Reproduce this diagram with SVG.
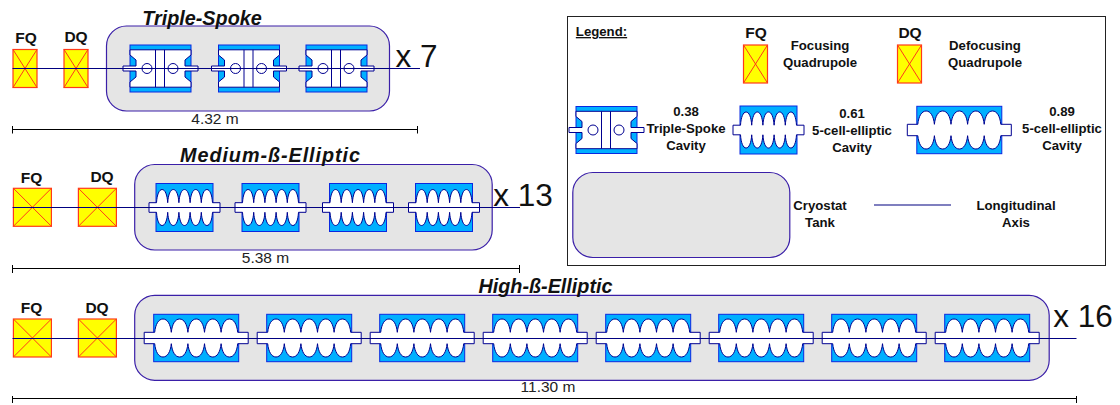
<svg xmlns="http://www.w3.org/2000/svg" width="1120" height="405" viewBox="0 0 1120 405">
<style>
text{font-family:"Liberation Sans",Arial,sans-serif;fill:#111;text-anchor:middle}
.q{font-weight:bold;font-size:15.5px}
.l{font-weight:bold;font-size:13.2px}
.t{font-weight:bold;font-style:italic;font-size:19.8px}
.n{font-size:31.500px}
.d{font-size:15.500px;fill:#222}
.tank{fill:#e5e5e5;stroke:#3a1fa8;stroke-width:1.2}
.blue{fill:#00b0ff;stroke:#0a28e0;stroke-width:1}
.white{fill:#fff;stroke:#000090;stroke-width:1}
.quad{fill:#ffff00;stroke:#ff3a1a;stroke-width:1.2}
.x{stroke:#ff3a1a;stroke-width:1;fill:none}
.axis{stroke:#000080;stroke-width:1.2;fill:none}
.dim{stroke:#000;stroke-width:1;fill:none}
</style>
<defs>
<g id="spoke">
<rect class="blue" x="-30.5" y="-23.5" width="61" height="47"/>
<path class="white" d="M-30.5-18.7H30.5V-13.5L24.5-8.5V-2.5H37.5V2.5H24.5V8.5L30.5 13.5V18.7H-30.5V13.5L-24.5 8.5V2.5H-37.5V-2.5H-24.5V-8.5L-30.5-13.5Z"/>
<path class="white" d="M-5-18.7V18.7M4-18.7V18.7"/>
<circle class="white" cx="-13.5" cy="0" r="5"/>
<circle class="white" cx="12.5" cy="0" r="5"/>
</g>
<g id="med">
<rect class="blue" x="-28.5" y="-24" width="57" height="48"/>
<path class="white" d="M-35.5-4.800H-28c.5-8 2.600-13.200 5.600-13.200s5.100 5.200 5.600 13.200c.5-8 2.600-13.200 5.600-13.200s5.100 5.200 5.600 13.200c.5-8 2.600-13.200 5.600-13.200s5.100 5.200 5.600 13.200c.5-8 2.600-13.200 5.600-13.200s5.100 5.200 5.600 13.200c.5-8 2.600-13.200 5.600-13.200s5.100 5.200 5.600 13.200H35.500V4.800H28c-.5 8-2.600 13.200-5.600 13.200s-5.100-5.200-5.600-13.200c-.5 8-2.600 13.200-5.600 13.200s-5.100-5.200-5.600-13.200c-.5 8-2.600 13.200-5.600 13.200s-5.100-5.200-5.600-13.200c-.5 8-2.600 13.200-5.600 13.200s-5.100-5.200-5.600-13.200c-.5 8-2.600 13.200-5.600 13.200s-5.100-5.200-5.600-13.200H-35.500Z"/>
</g>
<g id="high">
<rect class="blue" x="-42.5" y="-23.7" width="85" height="47.4"/>
<path class="white" d="M-52-5.700H-41.500c.8-8 3.800-13.300 8.300-13.300s7.500 5.300 8.300 13.300c.8-8 3.800-13.300 8.300-13.300s7.500 5.300 8.300 13.300c.8-8 3.800-13.300 8.300-13.300s7.500 5.300 8.300 13.300c.8-8 3.800-13.300 8.300-13.300s7.500 5.300 8.300 13.300c.8-8 3.800-13.300 8.300-13.300s7.500 5.300 8.300 13.300H52V5.700H41.500c-.8 8-3.800 13.300-8.300 13.300s-7.500-5.300-8.300-13.300c-.8 8-3.800 13.300-8.300 13.300s-7.500-5.300-8.300-13.300c-.8 8-3.800 13.300-8.300 13.300s-7.500-5.300-8.300-13.300c-.8 8-3.800 13.300-8.300 13.300s-7.500-5.300-8.300-13.300c-.8 8-3.800 13.300-8.300 13.300s-7.500-5.300-8.300-13.300H-52Z"/>
</g>
<g id="qn">
<rect class="quad" x="-12" y="-19" width="24" height="38"/>
<path class="x" d="M-12-19L12 19M12-19L-12 19"/>
</g>
<g id="qw">
<rect class="quad" x="-19" y="-19" width="38" height="38"/>
<path class="x" d="M-19-19L19 19M19-19L-19 19"/>
</g>
</defs>

<g id="legend-frame"><rect x="567.5" y="16.5" width="538" height="249" fill="#fff" stroke="#222" stroke-width="1"/></g>

<g id="tank-spoke"><rect class="tank" x="106.5" y="26" width="283" height="85" rx="20"/></g>
<g id="tank-medium"><rect class="tank" x="134.7" y="164.5" width="357.5" height="85.5" rx="20"/></g>
<g id="tank-high"><rect class="tank" x="134.7" y="295.3" width="914.5" height="85" rx="20"/></g>
<g id="tank-legend"><rect class="tank" x="572.8" y="172.5" width="217" height="85" rx="20"/></g>

<g id="title-spoke"><text class="t" x="202" y="25">Triple-Spoke</text></g>
<g id="title-medium"><text class="t" x="270" y="162" textLength="180" lengthAdjust="spacing">Medium-ß-Elliptic</text></g>
<g id="title-high"><text class="t" x="545.500" y="293">High-ß-Elliptic</text></g>

<g id="fq1"><use href="#qn" x="25" y="68.500"/><text class="q" x="26" y="43">FQ</text></g>
<g id="dq1"><use href="#qn" x="76" y="68.500"/><text class="q" x="76" y="41.500">DQ</text></g>
<g id="fq2"><use href="#qw" x="32.400" y="207.300"/><text class="q" x="31.500" y="183">FQ</text></g>
<g id="dq2"><use href="#qw" x="97.400" y="207.300"/><text class="q" x="102" y="182">DQ</text></g>
<g id="fq3"><use href="#qw" x="32.400" y="338"/><text class="q" x="31.500" y="313">FQ</text></g>
<g id="dq3"><use href="#qw" x="97.400" y="338"/><text class="q" x="97" y="313">DQ</text></g>

<g id="spoke1"><use href="#spoke" x="160.500" y="68.500"/></g>
<g id="spoke2"><use href="#spoke" x="249" y="68.500"/></g>
<g id="spoke3"><use href="#spoke" x="336.500" y="68.500"/></g>

<g id="med1"><use href="#med" x="184.500" y="207.500"/></g>
<g id="med2"><use href="#med" x="270.500" y="207.500"/></g>
<g id="med3"><use href="#med" x="358" y="207.500"/></g>
<g id="med4"><use href="#med" x="444" y="207.500"/></g>

<g id="high1"><use href="#high" x="196.200" y="338"/></g>
<g id="high2"><use href="#high" x="309.200" y="338"/></g>
<g id="high3"><use href="#high" x="422.200" y="338"/></g>
<g id="high4"><use href="#high" x="535.200" y="338"/></g>
<g id="high5"><use href="#high" x="648.200" y="338"/></g>
<g id="high6"><use href="#high" x="761.200" y="338"/></g>
<g id="high7"><use href="#high" x="874.200" y="338"/></g>
<g id="high8"><use href="#high" x="987.200" y="338"/></g>

<g id="connectors">
<path class="axis" d="M12.500 68.500H420M12.500 207.500H520M12.500 338.500H1076.500M874 205H951"/>
<path class="dim" d="M12.500 129.500H417.500M12.500 126V133.500M417.500 126V133.500M12.500 268.500H519.500M12.500 265V273M519.500 265V273M12.500 398.500H1076.500M12.500 396V403M1076.500 396V403"/>
</g>

<g id="mult">
<text class="n" x="416.500" y="67">x 7</text>
<text class="n" x="523" y="206">x 13</text>
<text class="n" x="1083" y="327">x 16</text>
</g>
<g id="dims">
<text class="d" x="215" y="124">4.32 m</text>
<text class="d" x="265.500" y="263">5.38 m</text>
<text class="d" x="548" y="392">11.30 m</text>
</g>

<g id="legend-title"><text class="l" x="601.500" y="36" text-decoration="underline">Legend:</text></g>
<g id="leg-fq"><use href="#qn" x="755.500" y="64"/><text class="q" x="756" y="38">FQ</text><text class="l" x="820" y="50">Focusing</text><text class="l" x="820" y="67">Quadrupole</text></g>
<g id="leg-dq"><use href="#qn" x="909.500" y="64"/><text class="q" x="910" y="38">DQ</text><text class="l" x="985" y="50">Defocusing</text><text class="l" x="985" y="67">Quadrupole</text></g>
<g id="leg-spoke"><use href="#spoke" x="606.500" y="130"/><text class="l" x="686" y="116">0.38</text><text class="l" x="686" y="133">Triple-Spoke</text><text class="l" x="686" y="150">Cavity</text></g>
<g id="leg-med"><use href="#med" x="768.500" y="130"/><text class="l" x="852" y="118">0.61</text><text class="l" x="852" y="135">5-cell-elliptic</text><text class="l" x="852" y="152">Cavity</text></g>
<g id="leg-high"><use href="#high" x="959.300" y="130"/><text class="l" x="1062" y="116">0.89</text><text class="l" x="1062" y="133">5-cell-elliptic</text><text class="l" x="1062" y="150">Cavity</text></g>
<g id="leg-tank-label"><text class="l" x="820" y="210">Cryostat</text><text class="l" x="820" y="227">Tank</text></g>
<g id="leg-axis-label"><text class="l" x="1016" y="210">Longitudinal</text><text class="l" x="1016" y="227">Axis</text></g>
</svg>
